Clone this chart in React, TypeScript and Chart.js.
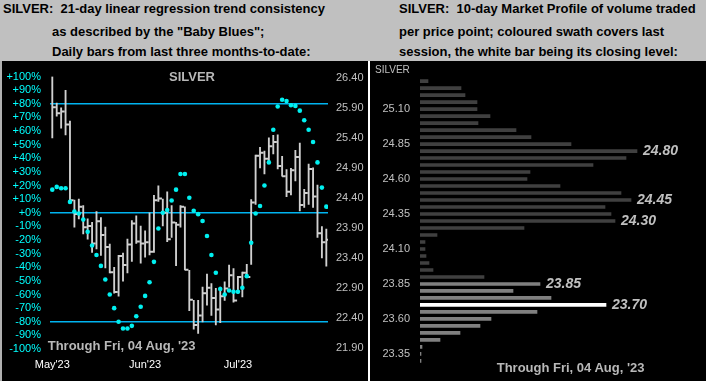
import React, { useEffect, useRef } from 'react';
import { Chart, registerables } from 'chart.js';

Chart.register(...registerables);

const FONT = '"Liberation Sans", Arial, Helvetica, sans-serif';

// ---------- Left panel data ----------
const monthLabels = ["May'23", "Jun'23", "Jul'23"];
const monthTickIndex = [0, 21, 42];

const highs = [
  26.43, 25.99, 25.91, 26.2, 25.69, 24.37, 24.39, 24.28, 24.06, 24.0,
  24.18, 24.08, 23.92, 23.64, 23.25, 23.45, 23.49, 23.72, 24.03, 24.11,
  23.94, 23.86, 24.16, 24.45, 24.61, 24.39, 24.51, 24.28, 24.0, 24.28,
  24.26, 23.2, 22.7, 22.7, 22.92, 23.14, 22.98, 22.9, 22.92, 23.01,
  23.29, 23.23, 23.1, 23.17, 23.3, 24.38, 25.12, 25.25, 25.19, 25.41,
  25.45, 25.46, 25.1, 24.88, 24.9, 25.2, 25.32, 24.55, 24.97, 24.91,
  24.62, 23.93, 23.89,
];
const lows = [
  25.41, 25.77, 25.57, 25.46, 24.33, 23.92, 24.06, 23.81, 23.72, 23.5,
  23.56, 23.45, 23.24, 23.16, 22.82, 22.77, 23.02, 23.16, 23.35, 23.65,
  23.32, 23.42, 23.46, 23.5, 24.35, 23.94, 23.68, 23.75, 23.28, 23.92,
  23.21, 22.53, 22.22, 22.15, 22.34, 22.62, 22.45, 22.29, 22.33, 22.7,
  22.92, 22.67, 22.82, 22.76, 23.08, 23.3, 24.3, 24.91, 24.81, 24.98,
  25.14, 24.89, 24.77, 24.43, 24.46, 24.69, 24.19, 24.25, 24.3, 24.25,
  23.75, 23.41, 23.27,
];
const closes = [
  25.92, 25.82, 25.85, 25.63, 24.37, 24.14, 24.26, 23.92, 23.94, 23.65,
  24.02, 23.79, 23.59, 23.17, 22.84, 23.44, 23.29, 23.63, 23.98, 23.68,
  23.65, 23.67, 23.51, 24.37, 24.4, 24.16, 23.72, 24.0, 23.96, 24.26,
  23.21, 22.71, 22.29, 22.45, 22.82, 22.91, 22.74, 22.55, 22.77, 22.9,
  23.12, 22.7, 23.09, 23.16, 23.09, 24.33, 25.11, 25.16, 25.06, 25.27,
  25.34, 24.94, 24.77, 24.51, 24.87, 25.09, 24.29, 24.49, 24.89, 24.43,
  23.82, 23.67, 23.71,
];
const trendPct = [
  17, 19, 18, 18, 8, 1, -0.5, -5, -14, -24,
  -31, -39, -49, -60, -70, -80, -85, -85, -83, -76,
  -69, -61, -51, -36, -11.5, 0, 2, 9, 17, 28.5,
  28.5, 11, 1.5, -1, -6, -17, -31, -44, -56, -60,
  -57, -58, -58, -55, -46.5, -22, -0.5, 5, 20, 37,
  61, 78, 83, 82, 79, 78.5, 75, 68, 61, 52,
  37, 18.5, 4.5,
];
const refLevels = [80, 0, -80];
const priceTicks = [21.9, 22.4, 22.9, 23.4, 23.9, 24.4, 24.9, 25.4, 25.9, 26.4];

// ---------- Right panel data ----------
const profilePrices = [
  '25.30', '25.25', '25.20', '25.15', '25.10', '25.05', '25.00', '24.95', '24.90', '24.85',
  '24.80', '24.75', '24.70', '24.65', '24.60', '24.55', '24.50', '24.45', '24.40', '24.35',
  '24.30', '24.25', '24.20', '24.15', '24.10', '24.05', '24.00', '23.95', '23.90', '23.85',
  '23.80', '23.75', '23.70', '23.65', '23.60', '23.55', '23.50', '23.45', '23.40', '23.35',
  '23.30',
];
const profileVolume = [
  8, 41, 45, 57, 57, 70, 58, 96, 111, 151,
  217, 206, 173, 110, 107, 140, 201, 211, 185, 191,
  195, 104, 17, 5, 5, 6, 9, 13, 64, 120,
  93, 131, 186, 117, 71, 60, 40, 20, 2, 1,
  1,
];
const swathPrices = ['23.85', '23.80', '23.75', '23.70', '23.65', '23.60', '23.55', '23.50', '23.45', '23.40', '23.35', '23.30'];
const closeLevel = '23.70';
const calloutPrices = ['24.80', '24.45', '24.30', '23.85', '23.70'];
const profileAxisLabels = ['25.10', '24.85', '24.60', '24.35', '24.10', '23.85', '23.60', '23.35'];

const X_MIN = -0.52;
const X_MAX = 62.38;

const calloutPlugin = {
  id: 'callouts',
  afterDatasetsDraw(chart: any) {
    const meta = chart.getDatasetMeta(0);
    const ctx = chart.ctx;
    ctx.save();
    ctx.font = `italic bold 14px ${FONT}`;
    ctx.fillStyle = '#c0c0c0';
    ctx.textBaseline = 'middle';
    ctx.textAlign = 'left';
    calloutPrices.forEach((p) => {
      const i = profilePrices.indexOf(p);
      const el = meta.data[i];
      if (el) ctx.fillText(p, el.x + 6, el.y + 0.5);
    });
    ctx.restore();
  },
};

const noGrid = { display: false, drawTicks: false, offset: false };

function LeftChart() {
  const ref = useRef<HTMLCanvasElement>(null);
  useEffect(() => {
    const lineSets = refLevels.map((v) => ({
      type: 'line',
      data: [{ x: X_MIN, y: v }, { x: X_MAX, y: v }],
      yAxisID: 'yPct',
      borderColor: '#00b4f0',
      borderWidth: 1.5,
      pointRadius: 0,
      showLine: true,
      order: 5,
    }));
    const chart = new Chart(ref.current as HTMLCanvasElement, {
      type: 'scatter',
      data: {
        datasets: [
          ...lineSets,
          {
            type: 'bar',
            data: highs.map((h, i) => ({ x: i, y: [lows[i], h] })),
            yAxisID: 'yPrice',
            backgroundColor: '#d0d0d0',
            barThickness: 1.2,
            borderWidth: 0,
            order: 3,
          },
          {
            type: 'scatter',
            data: closes.map((c, i) => ({ x: i + 0.4, y: c })),
            yAxisID: 'yPrice',
            pointStyle: 'line',
            pointRadius: 1.8,
            pointBorderColor: '#d0d0d0',
            pointBorderWidth: 2,
            borderColor: '#d0d0d0',
            order: 2,
          },
          {
            type: 'scatter',
            data: trendPct.map((v, i) => ({ x: i, y: v })),
            yAxisID: 'yPct',
            pointStyle: 'circle',
            pointRadius: 2.3,
            pointBackgroundColor: '#00f0f0',
            backgroundColor: '#00f0f0',
            pointBorderWidth: 0,
            order: 1,
          },
        ] as any,
      },
      options: {
        responsive: false,
        animation: false,
        events: [],
        layout: { autoPadding: false, padding: { top: 14, left: 0, right: 0, bottom: 0 } },
        plugins: { legend: { display: false }, tooltip: { enabled: false } },
        scales: {
          x: {
            type: 'linear',
            min: X_MIN,
            max: X_MAX,
            offset: false,
            grid: noGrid,
            border: { display: false },
            afterBuildTicks: (s: any) => {
              s.ticks = monthTickIndex.map((v) => ({ value: v }));
            },
            afterFit: (s: any) => {
              s.height = 32;
            },
            ticks: {
              autoSkip: false,
              maxRotation: 0,
              color: '#ffffff',
              padding: 9,
              font: { size: 11, family: FONT },
              callback: (_v: any, i: number) => monthLabels[i],
            },
          },
          yPct: {
            type: 'linear',
            position: 'left',
            min: -100,
            max: 100,
            grid: noGrid,
            border: { display: false },
            afterFit: (s: any) => {
              s.width = 48;
            },
            ticks: {
              stepSize: 10,
              autoSkip: false,
              color: '#00ffff',
              padding: 9,
              font: { size: 11, family: FONT },
              callback: (v: any) => {
                const n = Math.round(Number(v));
                return (n >= 0 ? '+' : '') + n + '%';
              },
            },
          },
          yPrice: {
            type: 'linear',
            position: 'right',
            min: 21.89,
            max: 26.43,
            beginAtZero: false,
            grid: noGrid,
            border: { display: false },
            afterBuildTicks: (s: any) => {
              s.ticks = priceTicks.map((v) => ({ value: v }));
            },
            afterFit: (s: any) => {
              s.width = 40;
            },
            ticks: {
              autoSkip: false,
              color: '#c0c0c0',
              padding: 8,
              font: { size: 11, family: FONT },
              callback: (v: any) => Number(v).toFixed(2),
            },
          },
        },
      } as any,
    });
    return () => chart.destroy();
  }, []);
  return (
    <canvas
      ref={ref}
      width={366}
      height={320}
      style={{ position: 'absolute', left: 2, top: 61, width: 366, height: 320 }}
    />
  );
}

function RightChart() {
  const ref = useRef<HTMLCanvasElement>(null);
  useEffect(() => {
    const chart = new Chart(ref.current as HTMLCanvasElement, {
      type: 'bar',
      data: {
        labels: profilePrices,
        datasets: [
          {
            data: profileVolume,
            backgroundColor: profilePrices.map((p) =>
              p === closeLevel ? '#ffffff' : swathPrices.includes(p) ? '#808080' : '#404040'
            ),
            barThickness: 3,
            borderWidth: 0,
          },
        ],
      },
      options: {
        indexAxis: 'y',
        responsive: false,
        animation: false,
        events: [],
        layout: { autoPadding: false, padding: { top: 10.7, bottom: 12.4, left: 0, right: 0 } },
        plugins: { legend: { display: false }, tooltip: { enabled: false } },
        scales: {
          x: { type: 'linear', min: 0, max: 286, display: false },
          y: {
            type: 'category',
            grid: { display: false, drawTicks: false },
            border: { display: false },
            afterFit: (s: any) => {
              s.width = 50;
            },
            ticks: {
              autoSkip: false,
              color: '#c0c0c0',
              padding: 10,
              font: { size: 11, family: FONT },
              callback: (_v: any, i: number) => {
                const l = profilePrices[i];
                return profileAxisLabels.includes(l) ? l : '';
              },
            },
          },
        },
      } as any,
      plugins: [calloutPlugin],
    });
    return () => chart.destroy();
  }, []);
  return (
    <canvas
      ref={ref}
      width={336}
      height={320}
      style={{ position: 'absolute', left: 370, top: 61, width: 336, height: 320 }}
    />
  );
}

const headStyle: React.CSSProperties = {
  position: 'absolute',
  font: `bold 13px ${FONT}`,
  lineHeight: '15px',
  color: '#000',
  whiteSpace: 'pre',
};

const grayText: React.CSSProperties = {
  position: 'absolute',
  font: `bold 13px ${FONT}`,
  lineHeight: '15px',
  color: '#b8b8b8',
  whiteSpace: 'pre',
};

export default function App() {
  return (
    <div
      style={{
        position: 'fixed',
        left: 0,
        top: 0,
        width: 706,
        height: 381,
        background: '#000',
        overflow: 'hidden',
        fontFamily: FONT,
      }}
    >
      <div style={{ position: 'absolute', left: 0, top: 0, width: 706, height: 61, background: '#c0c0c0' }} />
      <div style={{ ...headStyle, left: 3, top: 1 }}>{'SILVER:  21-day linear regression trend consistency'}</div>
      <div style={{ ...headStyle, left: 52, top: 24 }}>{'as described by the "Baby Blues";'}</div>
      <div style={{ ...headStyle, left: 52, top: 43.5 }}>{'Daily bars from last three months-to-date:'}</div>
      <div style={{ ...headStyle, left: 399, top: 1 }}>{'SILVER:  10-day Market Profile of volume traded'}</div>
      <div style={{ ...headStyle, left: 399, top: 24 }}>{'per price point; coloured swath covers last'}</div>
      <div style={{ ...headStyle, left: 399, top: 43.5 }}>{'session, the white bar being its closing level:'}</div>

      <div style={{ position: 'absolute', left: 0, top: 61, width: 2, height: 320, background: '#b0b0b0' }} />
      <div style={{ position: 'absolute', left: 368, top: 61, width: 2, height: 320, background: '#ffffff' }} />

      <LeftChart />
      <RightChart />

      <div style={{ ...grayText, left: 169, top: 68.7 }}>SILVER</div>
      <div style={{ ...grayText, left: 47.7, top: 338 }}>{"Through Fri, 04 Aug, '23"}</div>
      <div style={{ ...grayText, left: 496.7, top: 360 }}>{"Through Fri, 04 Aug, '23"}</div>
      <div
        style={{
          position: 'absolute',
          left: 375,
          top: 63.6,
          font: `10px ${FONT}`,
          lineHeight: '12px',
          color: '#c0c0c0',
        }}
      >
        SILVER
      </div>
    </div>
  );
}
